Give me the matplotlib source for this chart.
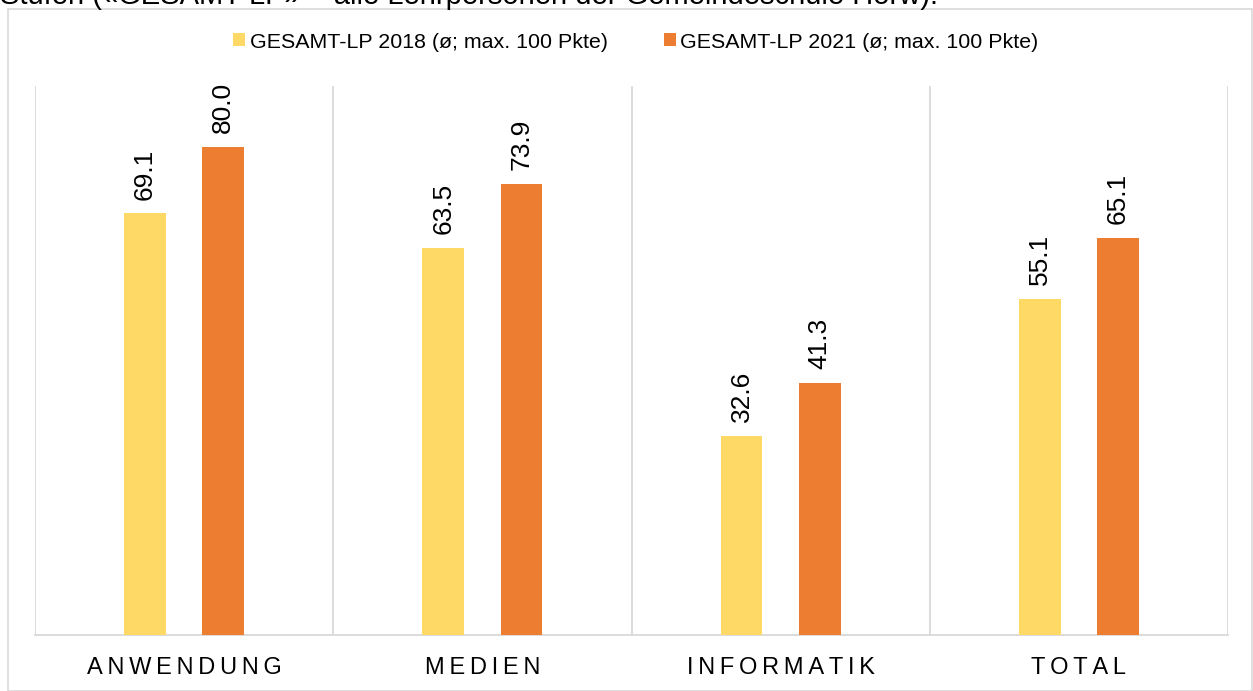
import matplotlib
matplotlib.use("Agg")
import matplotlib.pyplot as plt
import numpy as np
from matplotlib.patches import Rectangle

plt.rcParams['font.family'] = ['Liberation Sans', 'DejaVu Sans']

categories = ["ANWENDUNG", "MEDIEN", "INFORMATIK", "TOTAL"]
series_names = ["GESAMT-LP 2018 (ø; max. 100 Pkte)", "GESAMT-LP 2021 (ø; max. 100 Pkte)"]
values_2018 = [69.1, 63.5, 32.6, 55.1]
values_2021 = [80.0, 73.9, 41.3, 65.1]
colors = ["#FFD966", "#ED7D31"]
caption = "Stufen («GESAMT-LP» = alle Lehrpersonen der Gemeindeschule Horw)."

W, H = 1253, 691
fig = plt.figure(figsize=(W / 100, H / 100), dpi=100)

# outer chart frame
fig.patches.append(Rectangle((8 / W, 0), (W - 9) / W, (H - 9) / H, transform=fig.transFigure,
                             fill=False, edgecolor="#D9D9D9", linewidth=1.2))
# caption text from surrounding document (cut off at the top, as in the reference)
fig.text(0 / W, 1 - 4 / H, caption, fontsize=21, ha="left", va="baseline", color="black")

ax = fig.add_axes([35 / W, (H - 635) / H, (1228 - 35) / W, (635 - 86) / H])
x = np.arange(len(categories))
bw = 0.14
off = 0.131
b1 = ax.bar(x - off, values_2018, bw, color=colors[0], label=series_names[0], zorder=3)
b2 = ax.bar(x + off, values_2021, bw, color=colors[1], label=series_names[1], zorder=3)

for bars, vals in ((b1, values_2018), (b2, values_2021)):
    for r, v in zip(bars, vals):
        ax.annotate(f"{v:.1f}", (r.get_x() + r.get_width() / 2, r.get_height()),
                    xytext=(0, 10), textcoords="offset points", rotation=90,
                    ha="center", va="bottom", fontsize=19)

ax.set_xlim(-0.5, len(categories) - 0.5)
ax.set_ylim(0, 90)
for xs in np.arange(-0.5, len(categories), 1.0):
    ax.axvline(xs, color="#D9D9D9", linewidth=1.3, zorder=1)
for s in ["top", "left", "right"]:
    ax.spines[s].set_visible(False)
ax.spines["bottom"].set_color("#D9D9D9")
ax.spines["bottom"].set_linewidth(1.3)
ax.set_yticks([])
ax.set_xticks(x)
spaced = ["\u2009".join(list(c)) for c in categories]
ax.set_xticklabels(spaced, fontsize=17)
ax.tick_params(axis="x", length=0, pad=16)

fig.legend(handles=[b1, b2], labels=series_names, loc="center", bbox_to_anchor=(636 / W, 1 - 42 / H),
           ncol=2, frameon=False, fontsize=15.4, handlelength=0.55, handleheight=0.55,
           handletextpad=0.2, columnspacing=2.65)

fig.savefig("out.png", dpi=100)
